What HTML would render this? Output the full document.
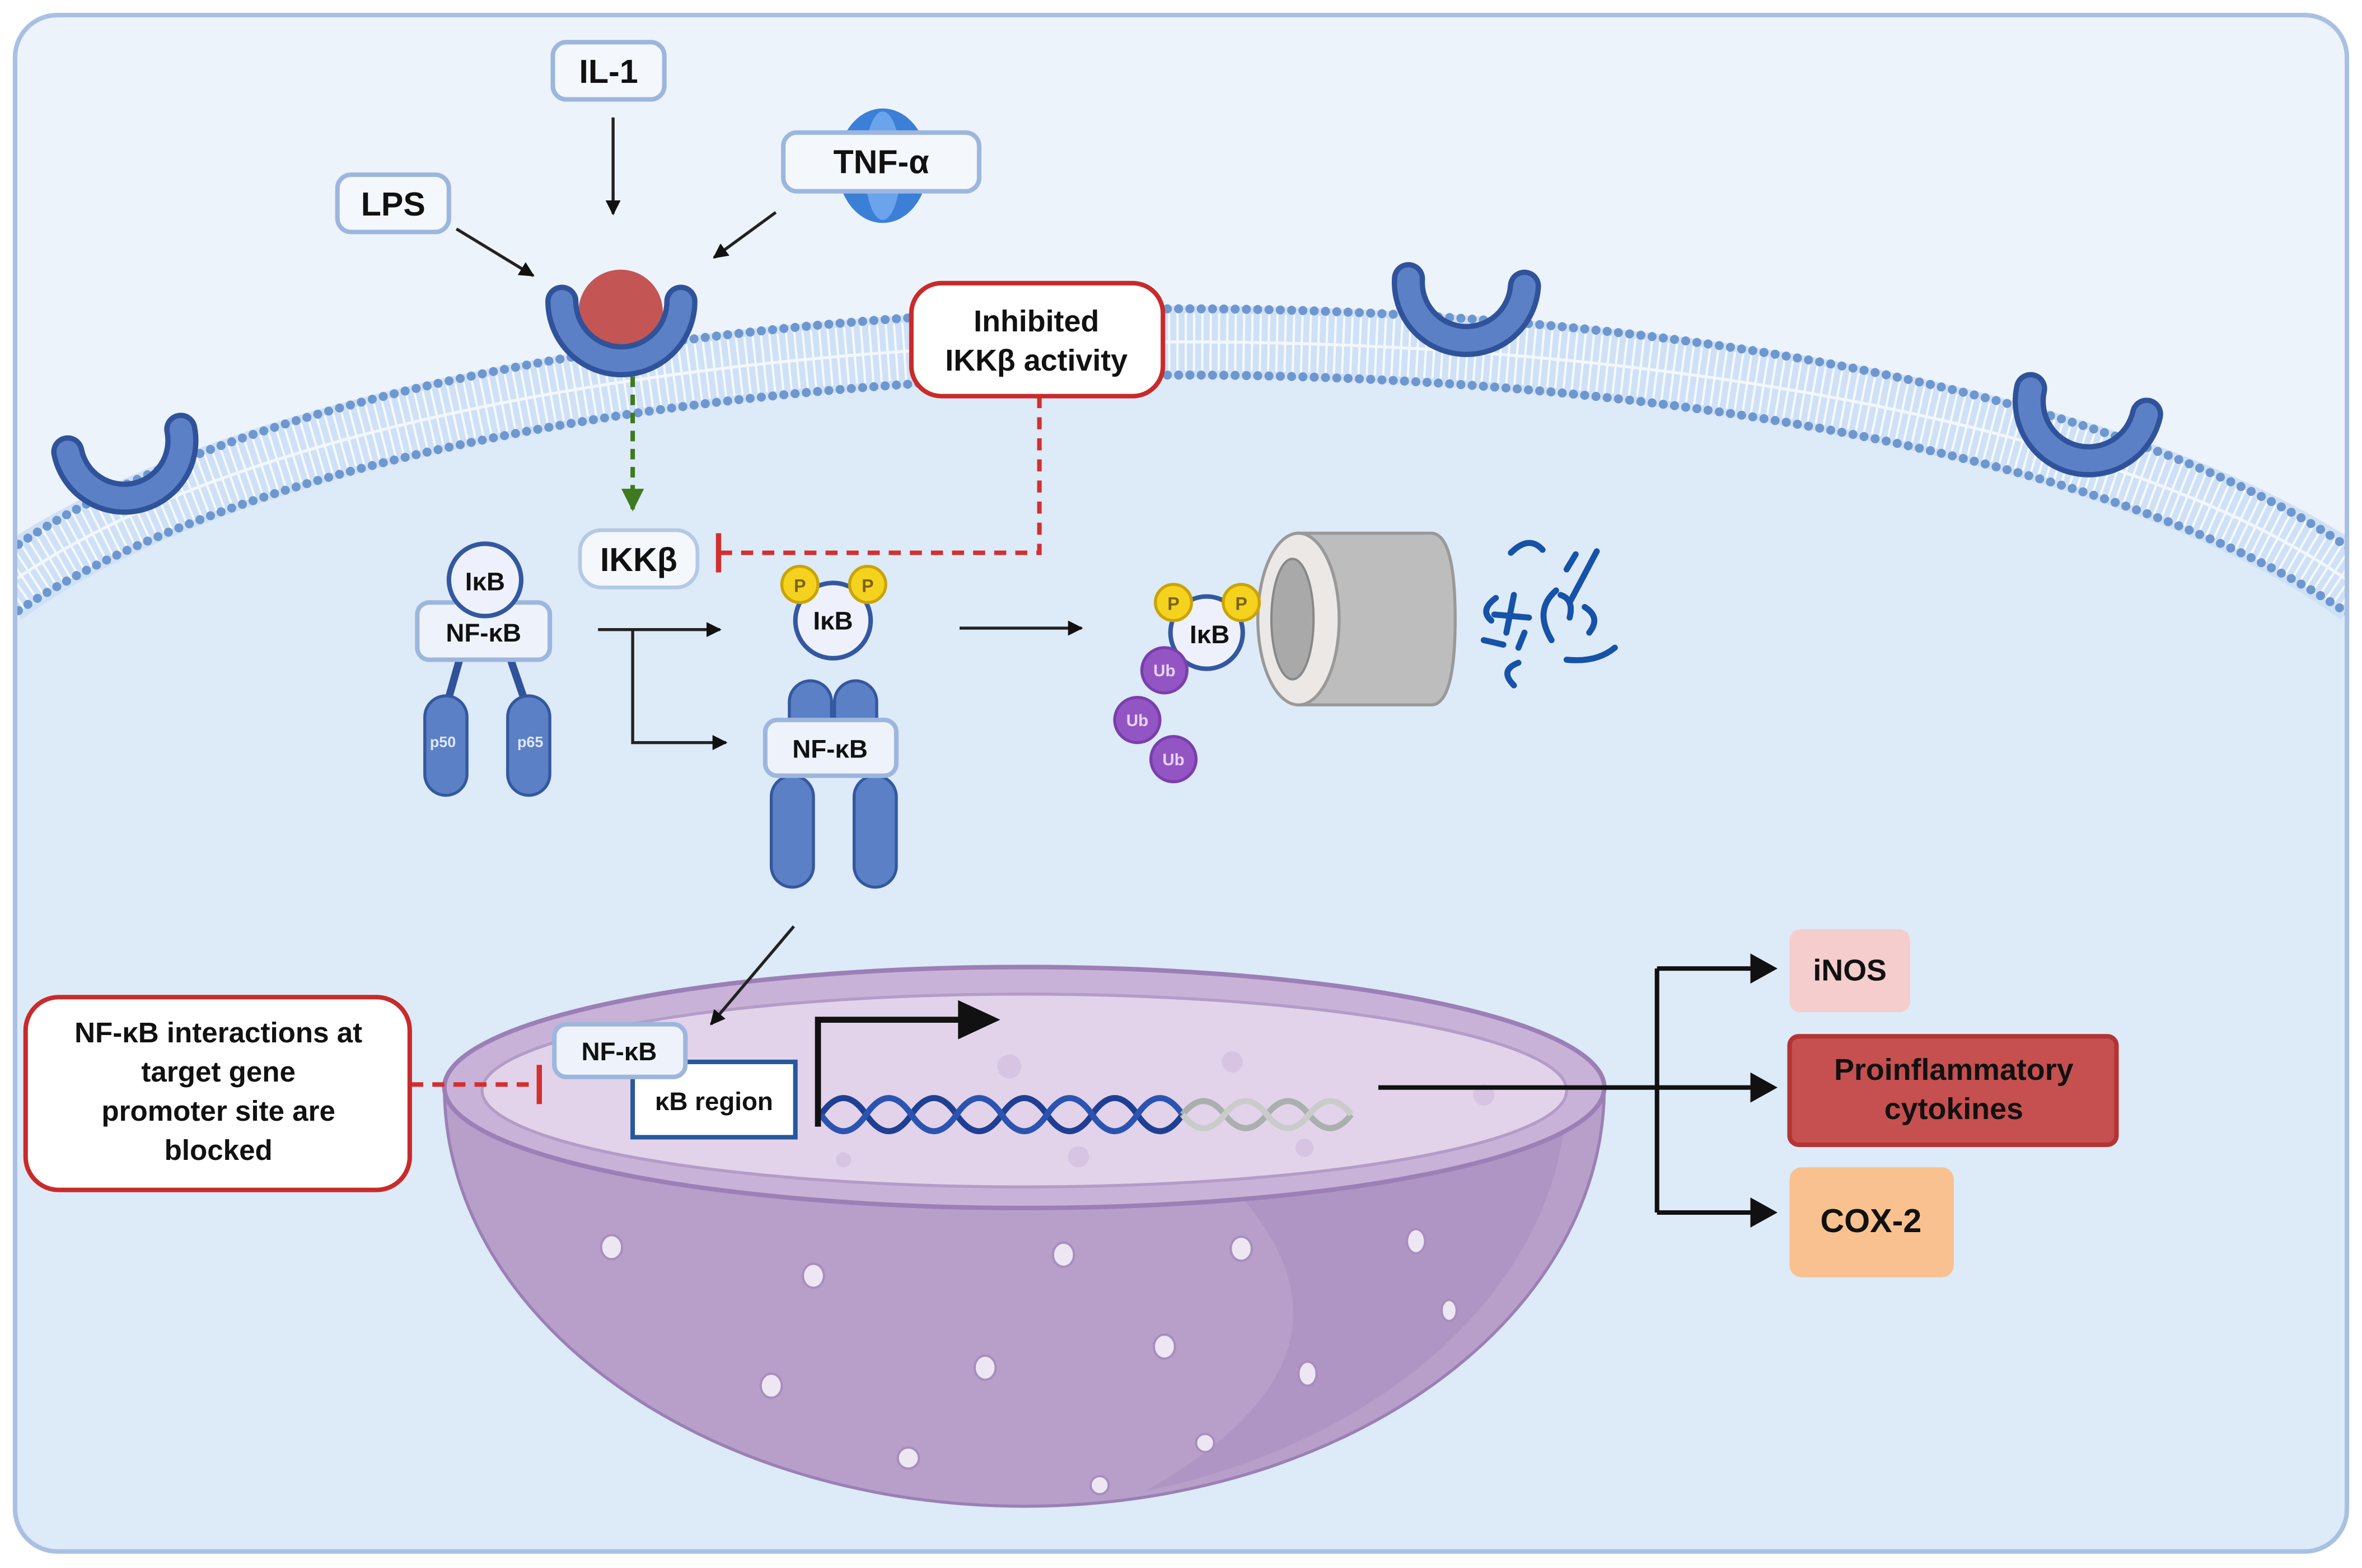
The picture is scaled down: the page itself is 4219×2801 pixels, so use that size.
<!DOCTYPE html>
<html><head><meta charset="utf-8"><style>
html,body{margin:0;padding:0;background:#fff;}
svg{display:block;}
text{font-family:"Liberation Sans",sans-serif;font-weight:bold;fill:#111;}
</style></head><body>
<svg width="4219" height="2801" viewBox="0 0 1568 1041" xmlns="http://www.w3.org/2000/svg">
<defs>
<marker id="ah" viewBox="0 0 10 10" refX="9" refY="5" markerWidth="5" markerHeight="5" orient="auto"><path d="M0,0 L10,5 L0,10 z" fill="#111"/></marker>
<marker id="ahg" viewBox="0 0 10 10" refX="9" refY="5" markerWidth="5" markerHeight="5" orient="auto"><path d="M0,0 L10,5 L0,10 z" fill="#3f7a1f"/></marker>
<clipPath id="cell"><rect x="10" y="10" width="1548" height="1020" rx="28"/></clipPath>
</defs>
<rect width="1568" height="1041" fill="#fff"/>
<g clip-path="url(#cell)">
<rect x="10" y="10" width="1548" height="1020" fill="#edf3fb"/>
<path d="M0,392 C300,172 1270,172 1568,392 L1568,1041 L0,1041 Z" fill="#ddeaf8"/>
<path d="M0,392 C300,172 1270,172 1568,392" fill="none" stroke="#cfe1f6" stroke-width="48"/>
<path d="M0,392 C300,172 1270,172 1568,392" fill="none" stroke="#fff" stroke-width="38" stroke-dasharray="1.5 4" opacity="0.8"/>
<path d="M0,392 C300,172 1270,172 1568,392" fill="none" stroke="#f2f7fd" stroke-width="2"/>
<path d="M0,370 C300,150 1270,150 1568,370" fill="none" stroke="#6e97d0" stroke-width="6" stroke-dasharray="0 7.5" stroke-linecap="round"/>
<path d="M0,414 C300,194 1270,194 1568,414" fill="none" stroke="#6e97d0" stroke-width="6" stroke-dasharray="0 7.5" stroke-linecap="round"/>
</g>
<rect x="10" y="10" width="1548" height="1020" rx="28" fill="none" stroke="#a9c0e2" stroke-width="3"/>

<g fill="none" stroke-linecap="round">
<path d="M45,300 A38,38 0 0 0 120,285" stroke="#2f529a" stroke-width="22"/>
<path d="M45,300 A38,38 0 0 0 120,285" stroke="#5b80c6" stroke-width="15"/>
<path d="M935,185 A38,38 0 0 0 1012,190" stroke="#2f529a" stroke-width="22"/>
<path d="M935,185 A38,38 0 0 0 1012,190" stroke="#5b80c6" stroke-width="15"/>
<path d="M1348,258 A38,38 0 0 0 1425,275" stroke="#2f529a" stroke-width="22"/>
<path d="M1348,258 A38,38 0 0 0 1425,275" stroke="#5b80c6" stroke-width="15"/>
</g>
<circle cx="412" cy="207" r="28" fill="#c35555"/>
<g fill="none" stroke-linecap="round">
<path d="M373,200 A39,39 0 0 0 452,200" stroke="#2f529a" stroke-width="22"/>
<path d="M373,200 A39,39 0 0 0 452,200" stroke="#5b80c6" stroke-width="15"/>
</g>

<ellipse cx="586" cy="110" rx="30" ry="38" fill="#3c7fd6"/>
<ellipse cx="586" cy="110" rx="12" ry="36" fill="#6aa4ec"/>
<rect x="224" y="116" width="74" height="38" rx="9" fill="#f4f8fd" stroke="#9db6de" stroke-width="3"/>
<text x="261" y="143" font-size="22" text-anchor="middle">LPS</text>
<rect x="367" y="28" width="74" height="38" rx="9" fill="#f4f8fd" stroke="#9db6de" stroke-width="3"/>
<text x="404" y="55" font-size="22" text-anchor="middle">IL-1</text>
<rect x="520" y="88" width="130" height="39" rx="9" fill="#f4f8fd" stroke="#9db6de" stroke-width="3"/>
<text x="585" y="115" font-size="22" text-anchor="middle">TNF-α</text>
<g stroke="#222" stroke-width="2" marker-end="url(#ah)">
<line x1="407" y1="78" x2="407" y2="142"/>
<line x1="303" y1="152" x2="354" y2="183"/>
<line x1="515" y1="141" x2="474" y2="171"/>
</g>

<line x1="420" y1="250" x2="420" y2="338" stroke="#3f7a1f" stroke-width="3" stroke-dasharray="7 5" marker-end="url(#ahg)"/>

<path d="M690,263 L690,367 L478,367" fill="none" stroke="#d22f2f" stroke-width="3" stroke-dasharray="8 6"/>
<line x1="477" y1="354" x2="477" y2="380" stroke="#d22f2f" stroke-width="3.5"/>
<rect x="605" y="188" width="167" height="75" rx="20" fill="#fff" stroke="#c92a2a" stroke-width="3"/>
<text x="688" y="220" font-size="20" text-anchor="middle">Inhibited</text>
<text x="688" y="246" font-size="20" text-anchor="middle">IKKβ activity</text>

<rect x="385" y="352" width="78" height="38" rx="14" fill="#f4f8fd" stroke="#b5c8e6" stroke-width="2.5"/>
<text x="424" y="379" font-size="22" text-anchor="middle">IKKβ</text>

<g stroke="#2f529a" stroke-width="5"><line x1="305" y1="438" x2="296" y2="470"/><line x1="339" y1="438" x2="350" y2="470"/></g>
<rect x="282" y="462" width="28" height="66" rx="14" fill="#5b80c6" stroke="#34589f" stroke-width="2"/>
<rect x="337" y="462" width="28" height="66" rx="14" fill="#5b80c6" stroke="#34589f" stroke-width="2"/>
<text x="294" y="496" font-size="10" style="fill:#dfe8f7" text-anchor="middle">p50</text>
<text x="352" y="496" font-size="10" style="fill:#dfe8f7" text-anchor="middle">p65</text>
<rect x="277" y="400" width="88" height="38" rx="8" fill="#eef3fb" stroke="#9db6de" stroke-width="3"/>
<circle cx="322" cy="385" r="24" fill="#eef1fb" stroke="#34589f" stroke-width="3"/>
<text x="322" y="392" font-size="17" text-anchor="middle">IκB</text>
<text x="321" y="426" font-size="17" text-anchor="middle">NF-κB</text>

<g stroke="#222" stroke-width="2" fill="none" marker-end="url(#ah)">
<line x1="397" y1="418" x2="478" y2="418"/>
<path d="M420,418 L420,493 L482,493"/>
<line x1="637" y1="417" x2="718" y2="417"/>
</g>

<circle cx="553" cy="412" r="25" fill="#eef1fb" stroke="#34589f" stroke-width="3"/>
<text x="553" y="418" font-size="17" text-anchor="middle">IκB</text>
<circle cx="531" cy="388" r="12" fill="#f5d21e" stroke="#c9a408" stroke-width="2"/>
<circle cx="576" cy="388" r="12" fill="#f5d21e" stroke="#c9a408" stroke-width="2"/>
<text x="531" y="393" font-size="12" text-anchor="middle" style="fill:#7a6410">P</text>
<text x="576" y="393" font-size="12" text-anchor="middle" style="fill:#7a6410">P</text>
<rect x="524" y="452" width="28" height="40" rx="14" fill="#5b80c6" stroke="#34589f" stroke-width="2"/>
<rect x="554" y="452" width="28" height="40" rx="14" fill="#5b80c6" stroke="#34589f" stroke-width="2"/>
<rect x="512" y="515" width="28" height="74" rx="14" fill="#5b80c6" stroke="#34589f" stroke-width="2"/>
<rect x="567" y="515" width="28" height="74" rx="14" fill="#5b80c6" stroke="#34589f" stroke-width="2"/>
<rect x="508" y="478" width="87" height="37" rx="8" fill="#eef3fb" stroke="#9db6de" stroke-width="3"/>
<text x="551" y="503" font-size="17" text-anchor="middle">NF-κB</text>

<path d="M862,354 L950,354 Q966,354 966,411 Q966,468 950,468 L862,468 Z" fill="#bdbdbd" stroke="#999" stroke-width="2"/>
<ellipse cx="862" cy="411" rx="27" ry="57" fill="#ece8e6" stroke="#999" stroke-width="2"/>
<ellipse cx="858" cy="411" rx="14" ry="40" fill="#a9a9a9" stroke="#888" stroke-width="1.5"/>
<circle cx="801" cy="420" r="24" fill="#eef1fb" stroke="#34589f" stroke-width="3"/>
<text x="803" y="427" font-size="17" text-anchor="middle">IκB</text>
<circle cx="779" cy="400" r="12" fill="#f5d21e" stroke="#c9a408" stroke-width="2"/>
<circle cx="824" cy="400" r="12" fill="#f5d21e" stroke="#c9a408" stroke-width="2"/>
<text x="779" y="405" font-size="12" text-anchor="middle" style="fill:#7a6410">P</text>
<text x="824" y="405" font-size="12" text-anchor="middle" style="fill:#7a6410">P</text>
<g fill="#9355c4" stroke="#7a3fac" stroke-width="2">
<circle cx="773" cy="445" r="15"/><circle cx="755" cy="478" r="15"/><circle cx="779" cy="504" r="15"/></g>
<g font-size="11" text-anchor="middle">
<text x="773" y="449" style="fill:#e6d5f3">Ub</text><text x="755" y="482" style="fill:#e6d5f3">Ub</text><text x="779" y="508" style="fill:#e6d5f3">Ub</text></g>
<g fill="none" stroke="#1552a8" stroke-width="4" stroke-linecap="round">
<path d="M1003,367 Q1015,355 1024,365"/><path d="M1040,378 L1046,368 M1060,366 L1042,400"/>
<path d="M993,397 Q982,405 990,412"/><path d="M1005,395 L1000,420 M992,408 L1015,410"/>
<path d="M1033,392 Q1018,405 1030,425 M1036,395 Q1045,398 1042,410"/>
<path d="M1052,403 Q1063,410 1055,420"/><path d="M985,425 L998,428"/><path d="M1008,440 Q995,445 1005,455"/>
<path d="M1040,438 Q1060,440 1072,430"/><path d="M1012,420 L1008,430"/>
</g>

<path d="M295,722 A385,278 0 0 0 1065,722 Z" fill="#b79fca" stroke="#9a80b4" stroke-width="2"/>
<path d="M820,790 Q980,740 1040,725 A385,278 0 0 1 760,990 Q920,900 820,790Z" fill="#a98fbe" opacity="0.6"/>
<ellipse cx="680" cy="722" rx="385" ry="80" fill="#c9b2d7" stroke="#9b7fb6" stroke-width="3"/>
<ellipse cx="680" cy="724" rx="360" ry="64" fill="#e2d3ea" stroke="#b49cc8" stroke-width="2"/>
<g fill="#efe6f4" stroke="#a78ebd" stroke-width="1.5">
<ellipse cx="406" cy="828" rx="7" ry="8"/><ellipse cx="540" cy="847" rx="7" ry="8"/><ellipse cx="706" cy="833" rx="7" ry="8"/>
<ellipse cx="824" cy="829" rx="7" ry="8"/><ellipse cx="940" cy="824" rx="6" ry="8"/><ellipse cx="512" cy="920" rx="7" ry="8"/>
<ellipse cx="654" cy="908" rx="7" ry="8"/><ellipse cx="773" cy="894" rx="7" ry="8"/><ellipse cx="868" cy="912" rx="6" ry="8"/>
<ellipse cx="603" cy="968" rx="7" ry="7"/><ellipse cx="730" cy="986" rx="6" ry="6"/><ellipse cx="800" cy="958" rx="6" ry="6"/><ellipse cx="962" cy="870" rx="5" ry="7"/></g>
<g fill="#d6c4e2"><circle cx="670" cy="708" r="8"/><circle cx="716" cy="768" r="7"/><circle cx="818" cy="705" r="7"/><circle cx="866" cy="762" r="6"/><circle cx="985" cy="727" r="7"/><circle cx="560" cy="770" r="5"/></g>

<line x1="527" y1="615" x2="472" y2="680" stroke="#222" stroke-width="2" marker-end="url(#ah)"/>

<g fill="none" stroke-width="4">
<path d="M545,740 q15,-22 30,0 t30,0 t30,0 t30,0 t30,0 t30,0 t30,0 t30,0" stroke="#1f3f92"/>
<path d="M545,740 q15,22 30,0 t30,0 t30,0 t30,0 t30,0 t30,0 t30,0 t30,0" stroke="#2b54b0"/>
<path d="M785,740 q14,-18 28,0 t28,0 t28,0 t28,0" stroke="#aab0ad"/>
<path d="M785,740 q14,18 28,0 t28,0 t28,0 t28,0" stroke="#c9ccca"/>
</g>
<path d="M543,748 L543,677 L640,677" fill="none" stroke="#111" stroke-width="4"/>
<path d="M636,664 L664,677 L636,690 Z" fill="#111"/>
<rect x="420" y="705" width="108" height="50" fill="#fff" stroke="#26599b" stroke-width="3"/>
<text x="474" y="737" font-size="17" text-anchor="middle">κB region</text>
<rect x="368" y="680" width="87" height="35" rx="8" fill="#eef3fb" stroke="#9db6de" stroke-width="3"/>
<text x="411" y="704" font-size="17" text-anchor="middle">NF-κB</text>

<line x1="273" y1="720" x2="356" y2="720" stroke="#d22f2f" stroke-width="3" stroke-dasharray="8 6"/>
<line x1="358" y1="707" x2="358" y2="733" stroke="#d22f2f" stroke-width="3.5"/>
<rect x="17" y="662" width="255" height="128" rx="22" fill="#fff" stroke="#c92a2a" stroke-width="3"/>
<text x="145" y="692" font-size="19" text-anchor="middle">NF-κB interactions at</text>
<text x="145" y="718" font-size="19" text-anchor="middle">target gene</text>
<text x="145" y="744" font-size="19" text-anchor="middle">promoter site are</text>
<text x="145" y="770" font-size="19" text-anchor="middle">blocked</text>

<g stroke="#111" stroke-width="3" fill="none">
<line x1="915" y1="722" x2="1100" y2="722"/>
<line x1="1100" y1="643" x2="1100" y2="805"/>
<line x1="1100" y1="643" x2="1168" y2="643"/>
<line x1="1100" y1="722" x2="1168" y2="722"/>
<line x1="1100" y1="805" x2="1168" y2="805"/>
</g>
<g fill="#111"><path d="M1162,633 L1180,643 L1162,653Z"/><path d="M1162,712 L1180,722 L1162,732Z"/><path d="M1162,795 L1180,805 L1162,815Z"/></g>
<rect x="1188" y="617" width="80" height="55" rx="7" fill="#f5cdcd"/>
<text x="1228" y="651" font-size="20" text-anchor="middle">iNOS</text>
<rect x="1188" y="688" width="217" height="72" rx="6" fill="#c6504f" stroke="#b23434" stroke-width="3"/>
<text x="1297" y="717" font-size="20" text-anchor="middle">Proinflammatory</text>
<text x="1297" y="743" font-size="20" text-anchor="middle">cytokines</text>
<rect x="1188" y="775" width="109" height="73" rx="8" fill="#f8c18f"/>
<text x="1242" y="818" font-size="22" text-anchor="middle">COX-2</text>
</svg>
</body></html>
